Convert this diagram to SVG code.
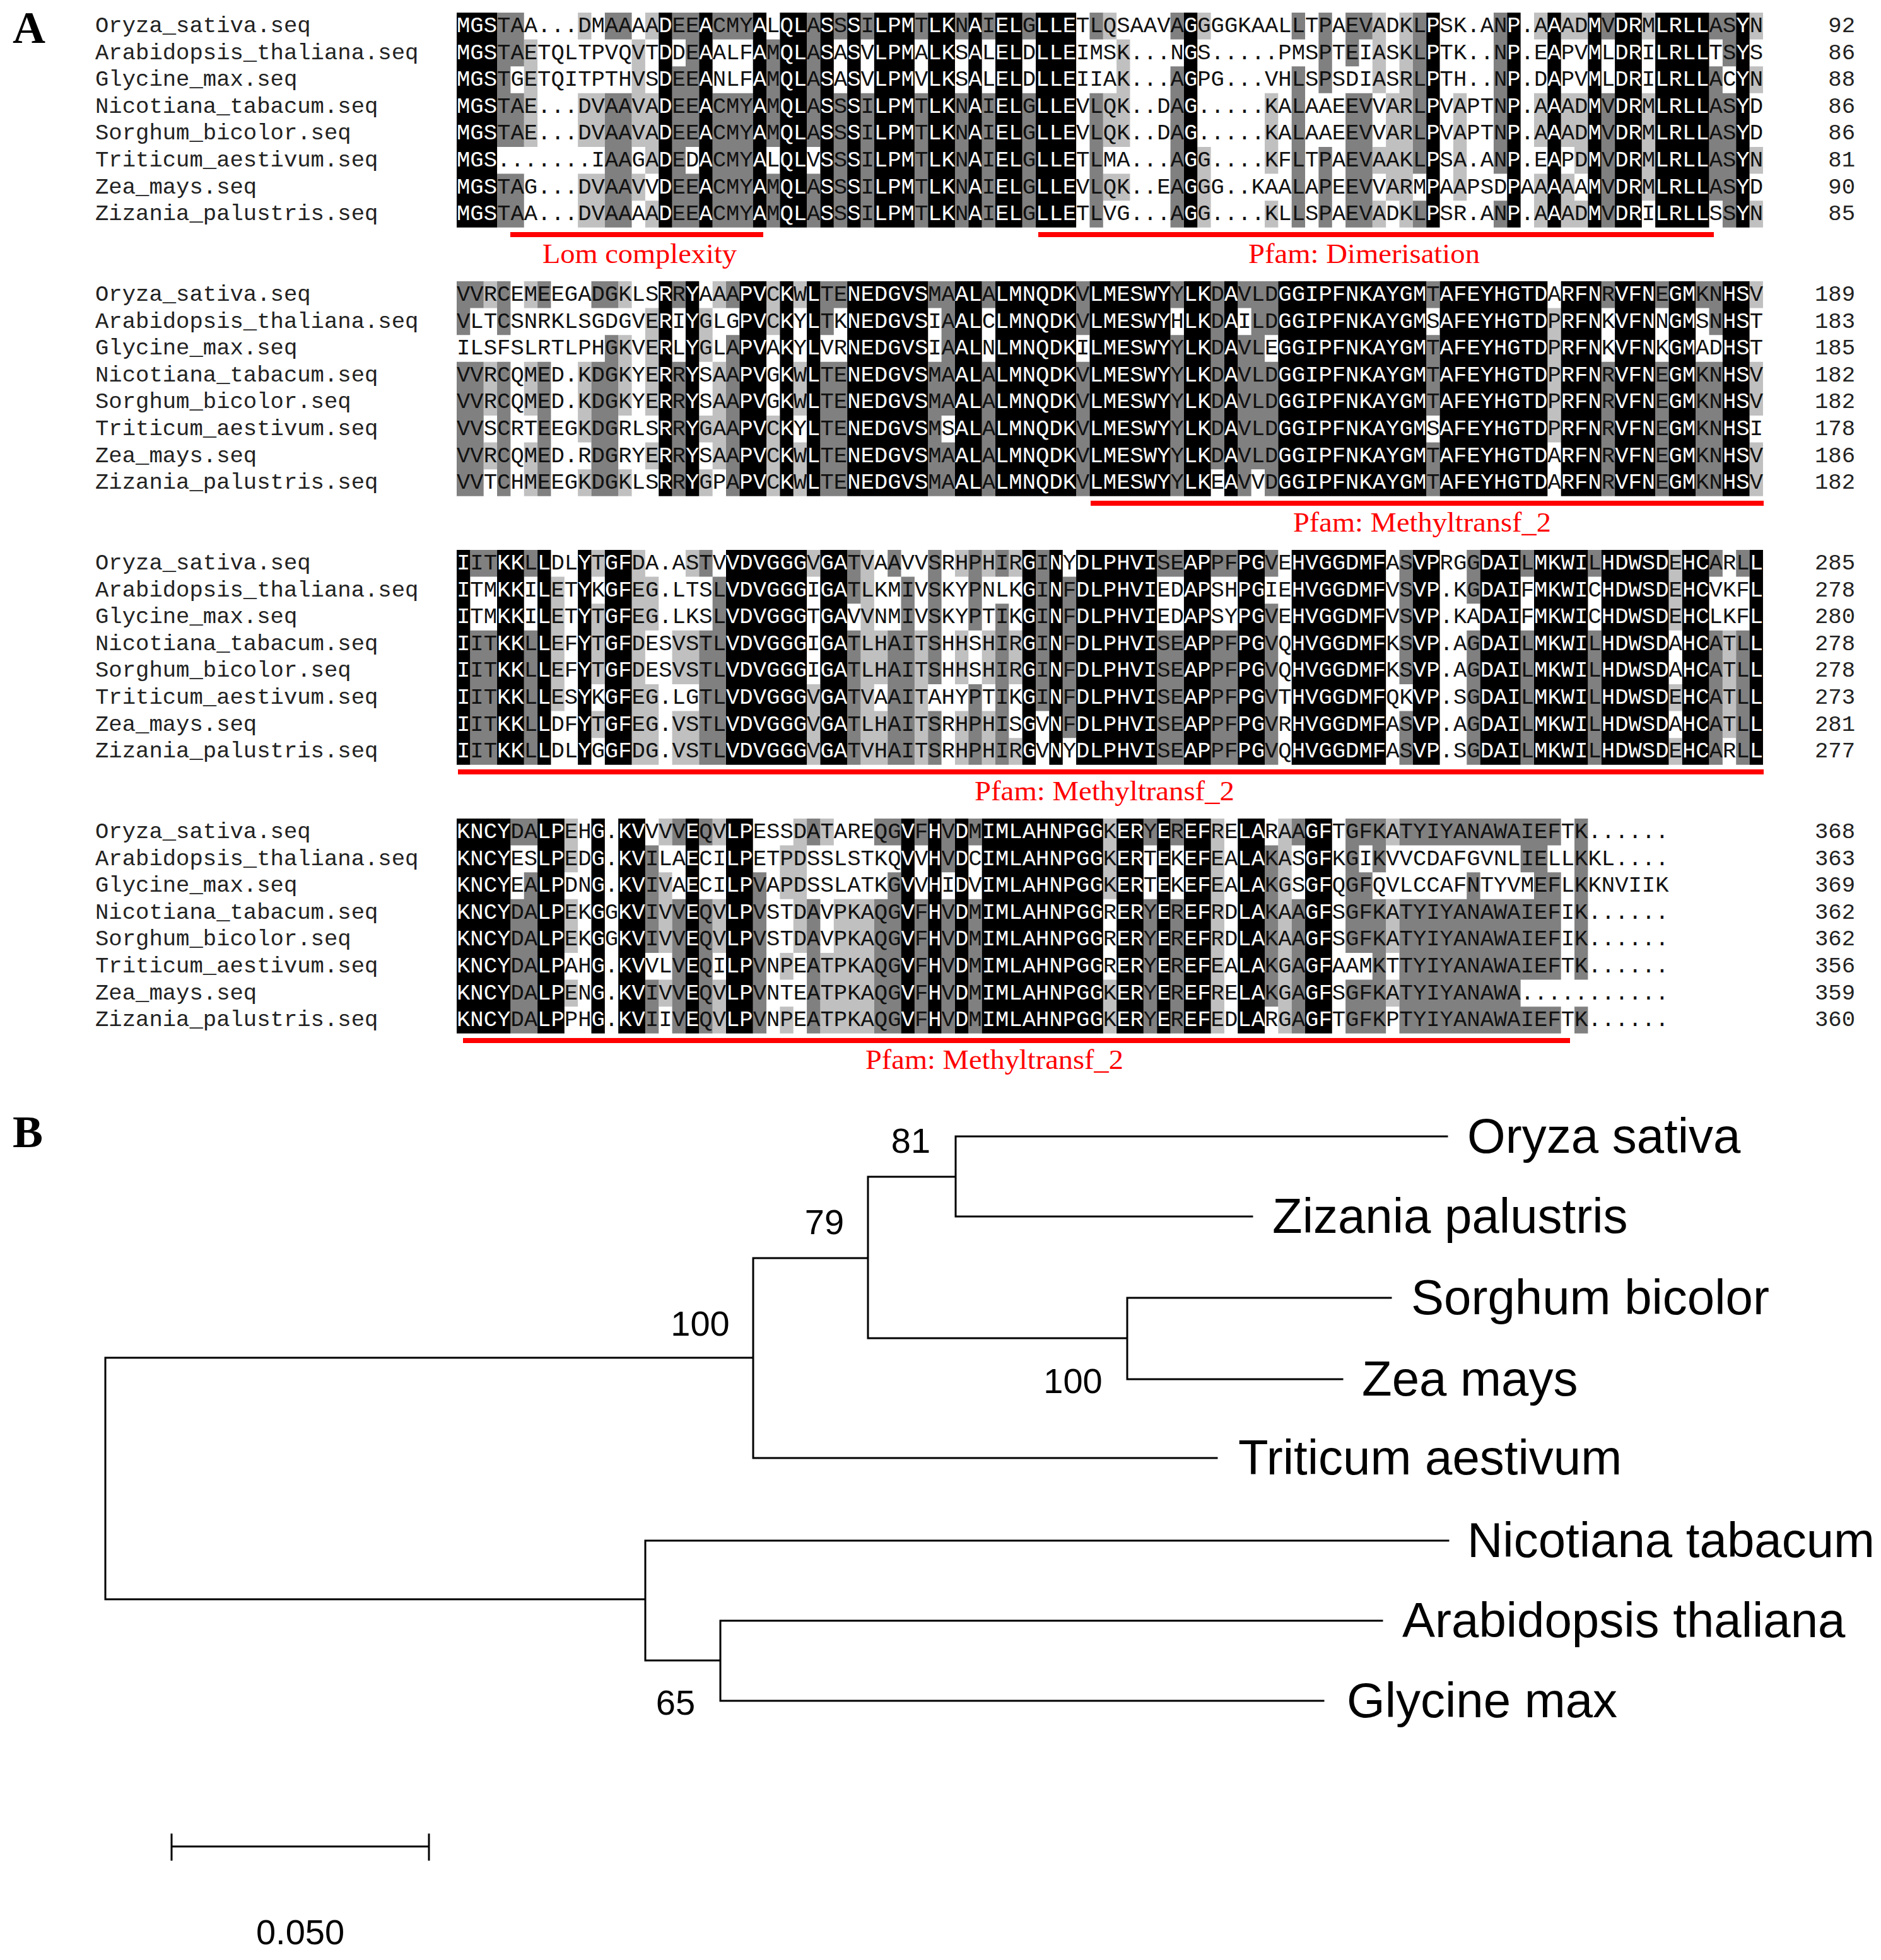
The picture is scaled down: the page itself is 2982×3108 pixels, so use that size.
<svg xmlns="http://www.w3.org/2000/svg" xmlns:xlink="http://www.w3.org/1999/xlink" width="2982" height="3108" viewBox="0 0 2982 3108">
<style>
.seq{font-family:"Liberation Mono","DejaVu Sans Mono",monospace;font-size:35.58px}
.nm{font-family:"Liberation Mono","DejaVu Sans Mono",monospace;font-size:35.58px;fill:#222}
.num{font-family:"Liberation Mono","DejaVu Sans Mono",monospace;font-size:35.58px;fill:#222;text-anchor:end}
.red{font-family:"Liberation Serif","Times New Roman",serif;font-size:44px;fill:#ff0000}
.redl{stroke:#ff0000;stroke-width:8;fill:none}
.pl{font-family:"Liberation Serif","Times New Roman",serif;font-size:72px;font-weight:bold;fill:#000}
.leaf{font-family:"Liberation Sans",Arial,sans-serif;font-size:78px;fill:#000}
.bs{font-family:"Liberation Sans",Arial,sans-serif;font-size:56px;fill:#000;text-anchor:middle}
.br{stroke:#000;stroke-width:3;fill:none;stroke-linecap:square}
</style>
<defs>
<path id="b1k" transform="translate(724,20) scale(21.35,42.6)" d="M0 0h3v8h-3zM15 0h1v8h-1zM18 0h1v8h-1zM22 0h1v8h-1zM24 0h2v8h-2zM27 0h1v8h-1zM29 0h1v8h-1zM31 0h3v8h-3zM35 0h2v8h-2zM38 0h1v8h-1zM40 0h2v8h-2zM43 0h3v8h-3zM54 0h1v8h-1zM72 0h1v8h-1zM78 0h1v8h-1zM81 0h1v8h-1zM84 0h1v8h-1zM86 0h2v8h-2zM89 0h4v8h-4zM95 0h1v8h-1z"/>
<path id="b1d" transform="translate(724,20) scale(21.35,42.6)" d="M3 0h1v5h-1zM3 6h1v2h-1zM4 0h1v2h-1zM4 3h1v2h-1zM4 6h1v2h-1zM11 0h2v1h-2zM11 3h2v5h-2zM19 0h3v1h-3zM19 3h3v5h-3zM28 0h1v1h-1zM28 3h1v5h-1zM30 0h1v1h-1zM30 3h1v5h-1zM34 0h1v1h-1zM34 3h1v5h-1zM37 0h1v1h-1zM37 3h1v5h-1zM39 0h1v1h-1zM39 3h1v5h-1zM42 0h1v1h-1zM42 3h1v5h-1zM47 0h1v1h-1zM47 3h1v5h-1zM67 0h1v1h-1zM67 3h1v5h-1zM85 0h1v1h-1zM85 3h1v5h-1zM16 0h1v1h-1zM16 2h1v6h-1zM17 0h1v5h-1zM17 6h1v2h-1zM23 1h1v4h-1zM23 6h1v2h-1zM26 0h1v5h-1zM26 6h1v2h-1zM53 0h1v1h-1zM53 2h1v6h-1zM62 0h1v1h-1zM62 2h1v6h-1zM64 0h1v3h-1zM64 5h1v3h-1zM66 0h1v2h-1zM66 3h1v5h-1zM71 0h1v6h-1zM71 7h1v1h-1zM77 0h1v6h-1zM77 7h1v1h-1zM93 0h1v1h-1zM93 2h1v5h-1zM94 0h1v2h-1zM94 3h1v5h-1z"/>
<path id="b1l" transform="translate(724,20) scale(21.35,42.6)" d="M5 1h1v4h-1zM9 0h1v1h-1zM9 3h2v2h-2zM9 6h2v2h-2zM13 1h1v4h-1zM13 6h1v1h-1zM14 0h1v1h-1zM14 3h1v3h-1zM14 7h1v1h-1zM48 0h1v1h-1zM48 3h1v2h-1zM48 6h1v1h-1zM49 1h1v4h-1zM49 6h1v1h-1zM55 0h1v1h-1zM55 5h1v3h-1zM60 3h1v3h-1zM60 7h1v1h-1zM68 0h1v3h-1zM68 5h1v1h-1zM68 7h1v1h-1zM69 3h1v4h-1zM70 0h1v8h-1zM74 3h1v4h-1zM80 0h1v1h-1zM80 3h1v2h-1zM80 6h1v2h-1zM82 0h1v1h-1zM82 3h1v2h-1zM82 6h1v2h-1zM83 0h1v1h-1zM83 3h1v3h-1zM83 7h1v1h-1zM88 0h1v1h-1zM88 3h1v4h-1zM96 0h1v1h-1zM96 2h1v1h-1zM96 5h1v1h-1zM96 7h1v1h-1z"/>
<path id="b2k" transform="translate(724,446) scale(21.35,42.6)" d="M15 0h1v8h-1zM17 0h1v8h-1zM21 0h2v8h-2zM24 0h1v8h-1zM26 0h1v8h-1zM29 0h6v8h-6zM37 0h2v8h-2zM40 0h6v8h-6zM47 0h6v8h-6zM54 0h2v8h-2zM57 0h1v8h-1zM61 0h11v8h-11zM73 0h8v8h-8zM82 0h3v8h-3zM86 0h3v8h-3zM90 0h2v8h-2zM94 0h2v8h-2z"/>
<path id="b2d" transform="translate(724,446) scale(21.35,42.6)" d="M1 0h1v1h-1zM1 3h1v5h-1zM6 0h1v1h-1zM6 3h1v5h-1zM10 0h1v1h-1zM10 3h1v5h-1zM16 0h1v1h-1zM16 3h1v5h-1zM28 0h1v1h-1zM28 3h1v5h-1zM35 0h1v1h-1zM35 3h1v5h-1zM39 0h1v1h-1zM39 3h1v5h-1zM85 0h1v1h-1zM85 3h1v5h-1zM89 0h1v1h-1zM89 3h1v5h-1zM92 0h1v1h-1zM92 3h1v5h-1zM0 0h1v2h-1zM0 3h1v5h-1zM3 0h1v2h-1zM3 3h1v5h-1zM27 0h1v2h-1zM27 3h1v5h-1zM46 0h1v2h-1zM46 3h1v5h-1zM60 0h1v2h-1zM60 3h1v5h-1zM93 0h1v2h-1zM93 3h1v5h-1zM11 0h1v1h-1zM11 2h1v6h-1zM20 0h1v1h-1zM20 2h1v6h-1zM53 0h1v1h-1zM53 2h1v6h-1zM58 0h1v1h-1zM58 2h1v6h-1zM36 0h1v5h-1zM36 6h1v2h-1zM56 0h1v7h-1zM59 0h1v7h-1zM72 0h1v1h-1zM72 2h1v3h-1zM72 6h1v2h-1z"/>
<path id="b2l" transform="translate(724,446) scale(21.35,42.6)" d="M2 0h1v1h-1zM2 3h1v2h-1zM2 6h1v1h-1zM5 0h1v1h-1zM5 3h1v2h-1zM5 6h1v2h-1zM9 3h1v3h-1zM9 7h1v1h-1zM12 0h1v1h-1zM12 2h1v3h-1zM12 7h1v1h-1zM14 1h1v4h-1zM14 6h1v1h-1zM18 1h1v2h-1zM18 5h1v1h-1zM18 7h1v1h-1zM19 0h1v1h-1zM19 3h1v4h-1zM23 0h1v2h-1zM23 5h1v3h-1zM25 0h1v1h-1zM25 3h1v2h-1zM25 6h1v2h-1zM81 1h1v5h-1zM96 0h1v1h-1zM96 3h1v2h-1zM96 6h1v2h-1z"/>
<path id="b3k" transform="translate(724,872) scale(21.35,42.6)" d="M0 0h1v8h-1zM3 0h2v8h-2zM6 0h1v8h-1zM9 0h1v8h-1zM11 0h2v8h-2zM20 0h6v8h-6zM27 0h2v8h-2zM42 0h1v8h-1zM44 0h1v8h-1zM46 0h6v8h-6zM54 0h2v8h-2zM58 0h2v8h-2zM62 0h7v8h-7zM71 0h2v8h-2zM76 0h3v8h-3zM80 0h4v8h-4zM85 0h5v8h-5zM91 0h2v8h-2zM96 0h1v8h-1z"/>
<path id="b3d" transform="translate(724,872) scale(21.35,42.6)" d="M1 0h2v1h-2zM1 3h2v5h-2zM5 0h1v1h-1zM5 3h1v5h-1zM18 0h1v1h-1zM18 3h1v5h-1zM32 0h1v1h-1zM32 3h1v5h-1zM52 0h2v1h-2zM52 3h2v5h-2zM56 0h2v1h-2zM56 3h2v5h-2zM79 0h1v1h-1zM79 3h1v5h-1zM84 0h1v1h-1zM84 3h1v5h-1zM93 0h1v1h-1zM93 3h1v5h-1zM95 0h1v1h-1zM95 3h1v5h-1zM19 1h1v7h-1zM29 0h1v2h-1zM29 3h1v5h-1zM33 1h1v7h-1zM35 0h1v5h-1zM35 6h1v2h-1zM38 0h1v3h-1zM38 5h1v3h-1zM40 0h1v1h-1zM40 2h1v6h-1zM43 0h1v6h-1zM45 1h1v6h-1zM60 0h1v1h-1zM60 2h1v6h-1zM70 0h1v5h-1zM70 6h1v2h-1zM75 0h1v2h-1zM75 3h1v5h-1z"/>
<path id="b3l" transform="translate(724,872) scale(21.35,42.6)" d="M7 1h1v5h-1zM10 0h1v1h-1zM10 2h1v3h-1zM10 6h1v1h-1zM13 0h1v8h-1zM14 1h1v2h-1zM14 5h1v3h-1zM16 3h2v2h-2zM16 6h2v2h-2zM17 0h1v1h-1zM26 0h1v1h-1zM26 5h1v3h-1zM30 0h1v8h-1zM31 3h1v2h-1zM31 6h1v2h-1zM34 3h1v5h-1zM37 0h1v1h-1zM37 3h1v2h-1zM37 6h1v2h-1zM39 0h1v1h-1zM39 3h1v2h-1zM39 6h1v2h-1zM41 0h1v1h-1zM41 3h1v2h-1zM41 7h1v1h-1zM90 0h1v3h-1zM90 5h1v1h-1zM90 7h1v1h-1zM94 3h1v4h-1z"/>
<path id="b4k" transform="translate(724,1298) scale(21.35,42.6)" d="M0 0h4v8h-4zM6 0h2v8h-2zM10 0h1v8h-1zM12 0h2v8h-2zM17 0h1v8h-1zM20 0h2v8h-2zM33 0h1v8h-1zM35 0h1v8h-1zM37 0h1v8h-1zM39 0h9v8h-9zM49 0h2v8h-2zM52 0h1v8h-1zM54 0h2v8h-2zM58 0h2v8h-2zM63 0h2v8h-2z"/>
<path id="b4d" transform="translate(724,1298) scale(21.35,42.6)" d="M4 0h1v1h-1zM4 3h1v5h-1zM16 0h1v1h-1zM16 3h1v5h-1zM18 0h1v1h-1zM18 3h1v5h-1zM26 0h1v1h-1zM26 3h1v5h-1zM31 0h1v1h-1zM31 3h1v5h-1zM34 0h1v1h-1zM34 3h1v5h-1zM38 0h1v1h-1zM38 3h1v5h-1zM51 0h1v1h-1zM51 3h1v5h-1zM53 0h1v1h-1zM53 3h1v5h-1zM62 0h1v1h-1zM62 3h1v5h-1zM70 0h9v1h-9zM70 3h9v5h-9zM75 2h1v1h-1zM5 0h1v1h-1zM5 2h1v6h-1zM14 1h1v4h-1zM14 6h1v2h-1zM22 2h1v6h-1zM32 0h1v1h-1zM32 2h1v6h-1zM36 0h1v2h-1zM36 3h1v5h-1zM60 1h1v6h-1zM66 0h1v5h-1zM66 6h1v2h-1zM67 0h1v1h-1zM67 2h1v3h-1zM67 6h1v2h-1zM68 0h1v2h-1zM68 3h1v5h-1zM79 0h1v2h-1zM79 3h1v3h-1zM79 7h1v1h-1zM80 0h1v6h-1zM80 7h1v1h-1zM81 0h1v1h-1zM81 2h1v4h-1zM81 7h1v1h-1zM83 0h1v6h-1zM83 7h1v1h-1z"/>
<path id="b4l" transform="translate(724,1298) scale(21.35,42.6)" d="M8 0h1v2h-1zM8 3h1v2h-1zM8 6h1v1h-1zM15 0h1v1h-1zM15 2h1v3h-1zM15 6h1v1h-1zM19 0h1v1h-1zM19 3h1v2h-1zM19 6h1v2h-1zM24 1h1v2h-1zM24 5h1v1h-1zM24 7h1v1h-1zM25 0h1v5h-1zM27 0h1v1h-1zM27 5h1v3h-1zM28 3h3v5h-3zM48 0h1v3h-1zM48 6h1v2h-1zM56 0h1v8h-1zM61 0h1v8h-1zM69 0h1v1h-1zM69 3h1v2h-1zM69 6h1v1h-1z"/>
<clipPath id="c1"><use xlink:href="#b1k"/></clipPath>
<clipPath id="c2"><use xlink:href="#b2k"/></clipPath>
<clipPath id="c3"><use xlink:href="#b3k"/></clipPath>
<clipPath id="c4"><use xlink:href="#b4k"/></clipPath>
<g id="t1" class="seq">
<text x="724" y="51">MGSTAA...DMAAAADEEACMYALQLASSSILPMTLKNAIELGLLETLQSAAVAGGGGKAALLTPAEVADKLPSK.ANP.AAADMVDRMLRLLASYN</text>
<text x="724" y="93.6">MGSTAETQLTPVQVTDDEAALFAMQLASASVLPMALKSALELDLLEIMSK...NGS.....PMSPTEIASKLPTK..NP.EAPVMLDRILRLLTSYS</text>
<text x="724" y="136.2">MGSTGETQITPTHVSDEEANLFAMQLASASVLPMVLKSALELDLLEIIAK...AGPG...VHLSPSDIASRLPTH..NP.DAPVMLDRILRLLACYN</text>
<text x="724" y="178.8">MGSTAE...DVAAVADEEACMYAMQLASSSILPMTLKNAIELGLLEVLQK..DAG.....KALAAEEVVARLPVAPTNP.AAADMVDRMLRLLASYD</text>
<text x="724" y="221.4">MGSTAE...DVAAVADEEACMYAMQLASSSILPMTLKNAIELGLLEVLQK..DAG.....KALAAEEVVARLPVAPTNP.AAADMVDRMLRLLASYD</text>
<text x="724" y="264">MGS.......IAAGADEDACMYALQLVSSSILPMTLKNAIELGLLETLMA...AGG....KFLTPAEVAAKLPSA.ANP.EAPDMVDRMLRLLASYN</text>
<text x="724" y="306.6">MGSTAG...DVAAVVDEEACMYAMQLASSSILPMTLKNAIELGLLEVLQK..EAGGG..KAALAPEEVVARMPAAPSDPAAAAAMVDRMLRLLASYD</text>
<text x="724" y="349.2">MGSTAA...DVAAAADEEACMYAMQLASSSILPMTLKNAIELGLLETLVG...AGG....KLLSPAEVADKLPSR.ANP.AAADMVDRILRLLSSYN</text>
</g>
<g id="t2" class="seq">
<text x="724" y="477">VVRCEMEEGADGKLSRRYAAAPVCKWLTENEDGVSMAALALMNQDKVLMESWYYLKDAVLDGGIPFNKAYGMTAFEYHGTDARFNRVFNEGMKNHSV</text>
<text x="724" y="519.6">VLTCSNRKLSGDGVERIYGLGPVCKYLTKNEDGVSIAALCLMNQDKVLMESWYHLKDAILDGGIPFNKAYGMSAFEYHGTDPRFNKVFNNGMSNHST</text>
<text x="724" y="562.2">ILSFSLRTLPHGKVERLYGLAPVAKYLVRNEDGVSIAALNLMNQDKILMESWYYLKDAVLEGGIPFNKAYGMTAFEYHGTDPRFNKVFNKGMADHST</text>
<text x="724" y="604.8">VVRCQMED.KDGKYERRYSAAPVGKWLTENEDGVSMAALALMNQDKVLMESWYYLKDAVLDGGIPFNKAYGMTAFEYHGTDPRFNRVFNEGMKNHSV</text>
<text x="724" y="647.4">VVRCQMED.KDGKYERRYSAAPVGKWLTENEDGVSMAALALMNQDKVLMESWYYLKDAVLDGGIPFNKAYGMTAFEYHGTDPRFNRVFNEGMKNHSV</text>
<text x="724" y="690">VVSCRTEEGKDGRLSRRYGAAPVCKYLTENEDGVSMSALALMNQDKVLMESWYYLKDAVLDGGIPFNKAYGMSAFEYHGTDPRFNRVFNEGMKNHSI</text>
<text x="724" y="732.6">VVRCQMED.RDGRYERRYSAAPVCKWLTENEDGVSMAALALMNQDKVLMESWYYLKDAVLDGGIPFNKAYGMTAFEYHGTDARFNRVFNEGMKNHSV</text>
<text x="724" y="775.2">VVTCHMEEGKDGKLSRRYGPAPVCKWLTENEDGVSMAALALMNQDKVLMESWYYLKEAVVDGGIPFNKAYGMTAFEYHGTDARFNRVFNEGMKNHSV</text>
</g>
<g id="t3" class="seq">
<text x="724" y="903">IITKKLLDLYTGFDA.ASTVVDVGGGVGATVAAVVSRHPHIRGINYDLPHVISEAPPFPGVEHVGGDMFASVPRGGDAILMKWILHDWSDEHCARLL</text>
<text x="724" y="945.6">ITMKKILETYKGFEG.LTSLVDVGGGIGATLKMIVSKYPNLKGINFDLPHVIEDAPSHPGIEHVGGDMFVSVP.KGDAIFMKWICHDWSDEHCVKFL</text>
<text x="724" y="988.2">ITMKKILETYTGFEG.LKSLVDVGGGTGAVVNMIVSKYPTIKGINFDLPHVIEDAPSYPGVEHVGGDMFVSVP.KADAIFMKWICHDWSDEHCLKFL</text>
<text x="724" y="1030.8">IITKKLLEFYTGFDESVSTLVDVGGGIGATLHAITSHHSHIRGINFDLPHVISEAPPFPGVQHVGGDMFKSVP.AGDAILMKWILHDWSDAHCATLL</text>
<text x="724" y="1073.4">IITKKLLEFYTGFDESVSTLVDVGGGIGATLHAITSHHSHIRGINFDLPHVISEAPPFPGVQHVGGDMFKSVP.AGDAILMKWILHDWSDAHCATLL</text>
<text x="724" y="1116">IITKKLLESYKGFEG.LGTLVDVGGGVGATVAAITAHYPTIKGINFDLPHVISEAPPFPGVTHVGGDMFQKVP.SGDAILMKWILHDWSDEHCATLL</text>
<text x="724" y="1158.6">IITKKLLDFYTGFEG.VSTLVDVGGGVGATLHAITSRHPHISGVNFDLPHVISEAPPFPGVRHVGGDMFASVP.AGDAILMKWILHDWSDAHCATLL</text>
<text x="724" y="1201.2">IITKKLLDLYGGFDG.VSTLVDVGGGVGATVHAITSRHPHIRGVNYDLPHVISEAPPFPGVQHVGGDMFASVP.SGDAILMKWILHDWSDEHCARLL</text>
</g>
<g id="t4" class="seq">
<text x="724" y="1329">KNCYDALPEHG.KVVVVEQVLPESSDATAREQGVFHVDMIMLAHNPGGKERYEREFRELARAAGFTGFKATYIYANAWAIEFTK......</text>
<text x="724" y="1371.6">KNCYESLPEDG.KVILAECILPETPDSSLSTKQVVHVDCIMLAHNPGGKERTEKEFEALAKASGFKGIKVVCDAFGVNLIELLKKL....</text>
<text x="724" y="1414.2">KNCYEALPDNG.KVIVAECILPVAPDSSLATKGVVHIDVIMLAHNPGGKERTEKEFEALAKGSGFQGFQVLCCAFNTYVMEFLKKNVIIK</text>
<text x="724" y="1456.8">KNCYDALPEKGGKVIVVEQVLPVSTDAVPKAQGVFHVDMIMLAHNPGGRERYEREFRDLAKAAGFSGFKATYIYANAWAIEFIK......</text>
<text x="724" y="1499.4">KNCYDALPEKGGKVIVVEQVLPVSTDAVPKAQGVFHVDMIMLAHNPGGRERYEREFRDLAKAAGFSGFKATYIYANAWAIEFIK......</text>
<text x="724" y="1542">KNCYDALPAHG.KVVLVEQILPVNPEATPKAQGVFHVDMIMLAHNPGGRERYEREFEALAKGAGFAAMKTTYIYANAWAIEFTK......</text>
<text x="724" y="1584.6">KNCYDALPENG.KVIVVEQVLPVNTEATPKAQGVFHVDMIMLAHNPGGKERYEREFRELAKGAGFSGFKATYIYANAWA...........</text>
<text x="724" y="1627.2">KNCYDALPPHG.KVIIVEQVLPVNPEATPKAQGVFHVDMIMLAHNPGGKERYEREFEDLARGAGFTGFKPTYIYANAWAIEFTK......</text>
</g>
</defs>
<rect width="2982" height="3108" fill="#fff"/>
<text class="pl" x="20" y="68">A</text>
<g id="block1">
<use xlink:href="#b1l" fill="#c0c0c0"/><use xlink:href="#b1d" fill="#808080"/><use xlink:href="#b1k" fill="#000"/>
<use xlink:href="#t1" fill="#111"/><use xlink:href="#t1" fill="#fff" clip-path="url(#c1)"/>
<text class="nm" x="151" y="51">Oryza_sativa.seq</text><text class="nm" x="151" y="93.6">Arabidopsis_thaliana.seq</text><text class="nm" x="151" y="136.2">Glycine_max.seq</text><text class="nm" x="151" y="178.8">Nicotiana_tabacum.seq</text><text class="nm" x="151" y="221.4">Sorghum_bicolor.seq</text><text class="nm" x="151" y="264">Triticum_aestivum.seq</text><text class="nm" x="151" y="306.6">Zea_mays.seq</text><text class="nm" x="151" y="349.2">Zizania_palustris.seq</text>
<text class="num" x="2941" y="51">92</text><text class="num" x="2941" y="93.6">86</text><text class="num" x="2941" y="136.2">88</text><text class="num" x="2941" y="178.8">86</text><text class="num" x="2941" y="221.4">86</text><text class="num" x="2941" y="264">81</text><text class="num" x="2941" y="306.6">90</text><text class="num" x="2941" y="349.2">85</text>
<path class="redl" d="M809 372H1210M1646 372H2717"/>
<text class="red" x="860" y="417" textLength="308" lengthAdjust="spacingAndGlyphs">Lom complexity</text>
<text class="red" x="1979" y="417" textLength="367" lengthAdjust="spacingAndGlyphs">Pfam: Dimerisation</text>
</g>
<g id="block2">
<use xlink:href="#b2l" fill="#c0c0c0"/><use xlink:href="#b2d" fill="#808080"/><use xlink:href="#b2k" fill="#000"/>
<use xlink:href="#t2" fill="#111"/><use xlink:href="#t2" fill="#fff" clip-path="url(#c2)"/>
<text class="nm" x="151" y="477">Oryza_sativa.seq</text><text class="nm" x="151" y="519.6">Arabidopsis_thaliana.seq</text><text class="nm" x="151" y="562.2">Glycine_max.seq</text><text class="nm" x="151" y="604.8">Nicotiana_tabacum.seq</text><text class="nm" x="151" y="647.4">Sorghum_bicolor.seq</text><text class="nm" x="151" y="690">Triticum_aestivum.seq</text><text class="nm" x="151" y="732.6">Zea_mays.seq</text><text class="nm" x="151" y="775.2">Zizania_palustris.seq</text>
<text class="num" x="2941" y="477">189</text><text class="num" x="2941" y="519.6">183</text><text class="num" x="2941" y="562.2">185</text><text class="num" x="2941" y="604.8">182</text><text class="num" x="2941" y="647.4">182</text><text class="num" x="2941" y="690">178</text><text class="num" x="2941" y="732.6">186</text><text class="num" x="2941" y="775.2">182</text>
<path class="redl" d="M1729 798H2796"/>
<text class="red" x="2050" y="843" textLength="409" lengthAdjust="spacingAndGlyphs">Pfam: Methyltransf_2</text>
</g>
<g id="block3">
<use xlink:href="#b3l" fill="#c0c0c0"/><use xlink:href="#b3d" fill="#808080"/><use xlink:href="#b3k" fill="#000"/>
<use xlink:href="#t3" fill="#111"/><use xlink:href="#t3" fill="#fff" clip-path="url(#c3)"/>
<text class="nm" x="151" y="903">Oryza_sativa.seq</text><text class="nm" x="151" y="945.6">Arabidopsis_thaliana.seq</text><text class="nm" x="151" y="988.2">Glycine_max.seq</text><text class="nm" x="151" y="1030.8">Nicotiana_tabacum.seq</text><text class="nm" x="151" y="1073.4">Sorghum_bicolor.seq</text><text class="nm" x="151" y="1116">Triticum_aestivum.seq</text><text class="nm" x="151" y="1158.6">Zea_mays.seq</text><text class="nm" x="151" y="1201.2">Zizania_palustris.seq</text>
<text class="num" x="2941" y="903">285</text><text class="num" x="2941" y="945.6">278</text><text class="num" x="2941" y="988.2">280</text><text class="num" x="2941" y="1030.8">278</text><text class="num" x="2941" y="1073.4">278</text><text class="num" x="2941" y="1116">273</text><text class="num" x="2941" y="1158.6">281</text><text class="num" x="2941" y="1201.2">277</text>
<path class="redl" d="M726 1224H2796"/>
<text class="red" x="1545" y="1269" textLength="412" lengthAdjust="spacingAndGlyphs">Pfam: Methyltransf_2</text>
</g>
<g id="block4">
<use xlink:href="#b4l" fill="#c0c0c0"/><use xlink:href="#b4d" fill="#808080"/><use xlink:href="#b4k" fill="#000"/>
<use xlink:href="#t4" fill="#111"/><use xlink:href="#t4" fill="#fff" clip-path="url(#c4)"/>
<text class="nm" x="151" y="1329">Oryza_sativa.seq</text><text class="nm" x="151" y="1371.6">Arabidopsis_thaliana.seq</text><text class="nm" x="151" y="1414.2">Glycine_max.seq</text><text class="nm" x="151" y="1456.8">Nicotiana_tabacum.seq</text><text class="nm" x="151" y="1499.4">Sorghum_bicolor.seq</text><text class="nm" x="151" y="1542">Triticum_aestivum.seq</text><text class="nm" x="151" y="1584.6">Zea_mays.seq</text><text class="nm" x="151" y="1627.2">Zizania_palustris.seq</text>
<text class="num" x="2941" y="1329">368</text><text class="num" x="2941" y="1371.6">363</text><text class="num" x="2941" y="1414.2">369</text><text class="num" x="2941" y="1456.8">362</text><text class="num" x="2941" y="1499.4">362</text><text class="num" x="2941" y="1542">356</text><text class="num" x="2941" y="1584.6">359</text><text class="num" x="2941" y="1627.2">360</text>
<path class="redl" d="M734 1650H2489"/>
<text class="red" x="1372" y="1695" textLength="409" lengthAdjust="spacingAndGlyphs">Pfam: Methyltransf_2</text>
</g>
<text class="pl" x="20" y="1819">B</text>
<g id="connectors">
<path class="br" d="M167 2153V2536M167 2153H1194M1194 1995V2312M1194 1995H1376M1376 1866V2122M1376 1866H1515M1515 1802V1929M1515 1802H2294M1515 1929H1985M1376 2122H1787M1787 2058V2187M1787 2058H2205M1787 2187H2128M1194 2312H1929M167 2536H1023M1023 2443V2633M1023 2443H2296M1023 2633H1142M1142 2570V2697M1142 2570H2191M1142 2697H2098"/>
</g>
<g id="leaf-oryza"><text class="leaf" x="2326" y="1828">Oryza sativa</text></g>
<g id="leaf-zizania"><text class="leaf" x="2017" y="1955">Zizania palustris</text></g>
<g id="leaf-sorghum"><text class="leaf" x="2237" y="2084">Sorghum bicolor</text></g>
<g id="leaf-zea"><text class="leaf" x="2159" y="2213">Zea mays</text></g>
<g id="leaf-triticum"><text class="leaf" x="1963" y="2338">Triticum aestivum</text></g>
<g id="leaf-nicotiana"><text class="leaf" x="2326" y="2469">Nicotiana tabacum</text></g>
<g id="leaf-arabidopsis"><text class="leaf" x="2223" y="2596">Arabidopsis thaliana</text></g>
<g id="leaf-glycine"><text class="leaf" x="2135" y="2723">Glycine max</text></g>
<g id="bootstrap">
<text class="bs" x="1444" y="1828">81</text>
<text class="bs" x="1307" y="1957">79</text>
<text class="bs" x="1110" y="2118">100</text>
<text class="bs" x="1701" y="2209">100</text>
<text class="bs" x="1071" y="2719">65</text>
</g>
<g id="scalebar">
<path class="br" d="M272 2928H680M272 2909V2949M680 2909V2949"/>
<text class="bs" x="476" y="3083">0.050</text>
</g>
</svg>
